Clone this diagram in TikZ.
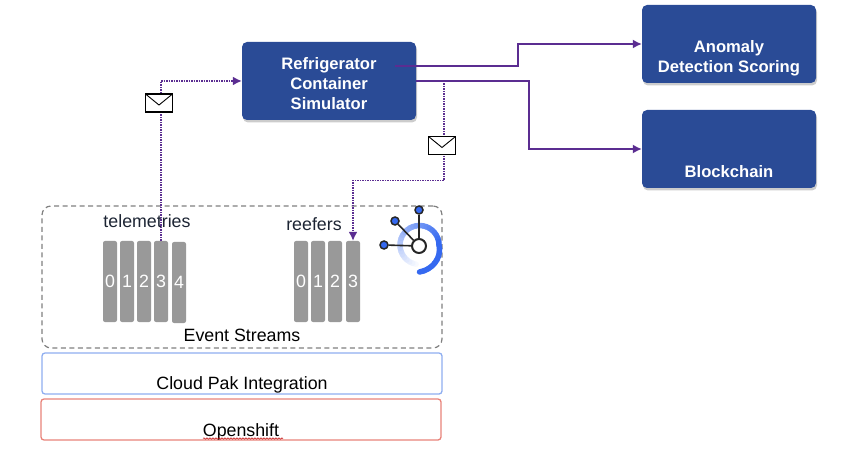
\documentclass[tikz,border=0pt]{standalone}
\usepackage{fontspec}
\setmainfont{Liberation Sans}
\usetikzlibrary{arrows.meta,shadows,decorations.pathmorphing}

\definecolor{boxblue}{HTML}{2A4B96}
\definecolor{linepurple}{HTML}{5B2D91}
\definecolor{iconblue}{HTML}{3569F0}
\definecolor{topicink}{HTML}{1C2433}
\definecolor{cloudblue}{HTML}{8FAEF0}
\definecolor{shiftred}{HTML}{E8837A}

\tikzset{
  service/.style={rectangle, rounded corners=5pt, fill=boxblue, text=white,
      minimum width=174pt, minimum height=78pt, inner sep=0pt, align=center,
      font=\fontsize{16.6}{20}\selectfont\bfseries,
      drop shadow={shadow xshift=1pt, shadow yshift=-2.5pt, opacity=0.4}},
  layer/.style={rectangle, rounded corners=3pt, line width=1.3pt,
      minimum width=400pt, minimum height=41pt, inner sep=0pt, align=center,
      font=\fontsize{17.8}{21}\selectfont},
  partbar/.style={rectangle, rounded corners=2pt, fill=black!40, text=white,
      minimum width=14pt, minimum height=81pt, inner sep=0pt,
      font=\fontsize{17.8}{20}\selectfont},
  topicname/.style={text=topicink, inner sep=0pt, font=\fontsize{17.8}{20}\selectfont},
  envelope/.style={rectangle, draw=black, line width=1.2pt, fill=white,
      minimum width=27pt, minimum height=18pt, inner sep=0pt,
      path picture={\draw[line width=0.9pt]
        (path picture bounding box.north west) -- ++(13.5pt,-11pt)
        -- (path picture bounding box.north east);}},
  flow/.style={-{Latex[length=9pt,width=9pt]}, linepurple, line width=1.5pt},
  msgflow/.style={flow, dash pattern=on 1.4pt off 1.1pt, line width=1.6pt},
  hubdot/.style={circle, draw=black!85, line width=1.5pt, fill=iconblue,
      minimum size=8pt, inner sep=0pt}
}

\begin{document}
\begin{tikzpicture}[x=1pt, y=-1pt]
\useasboundingbox (0,0) rectangle (848,454);

% services
\node[service] (simulator) at (329,81) {\rule{0pt}{18pt}Refrigerator\\Container\\Simulator};
\node[service] (anomaly) at (729,44) {\rule{0pt}{21pt}\\Anomaly\\Detection Scoring};
\node[service] (blockchain) at (729,149) {\rule{0pt}{17pt}\\\mbox{}\\Blockchain};

% platform layers
\node[layer, draw=black!50, dash pattern=on 5pt off 3.5pt, line width=1.2pt, rounded corners=9pt,
      minimum height=142pt] (events) at (242,277) {};
\node[layer, draw=cloudblue] (cloudpak) at (242,373.5) {\rule{0pt}{14pt}\\Cloud Pak Integration};
\node[layer, draw=shiftred] (openshift) at (241,419.5) {\rule{0pt}{16pt}\\Openshift};
\node[inner sep=0pt, font=\fontsize{17.8}{20}\selectfont] (eventsname) at (242,335) {Event Streams};
\draw[red!75!black, line width=0.5pt, decorate,
      decoration={snake, amplitude=0.7pt, segment length=3pt}] (203,438.5) -- (283,438.5);

% topics
\node[topicname] (telemetries) at (147,221) {telemetries};
\node[topicname] (reefers) at (314,224) {reefers};
\foreach \n/\x in {0/110, 1/127, 2/144, 3/161}
  \node[partbar] (tel\n) at (\x,281.5) {\n};
\node[partbar] (tel4) at (179,282.5) {4};
\foreach \n/\x in {0/301, 1/318, 2/335, 3/353}
  \node[partbar] (ref\n) at (\x,281.5) {\n};

% event streams icon
\foreach \a in {250,240,...,-90} {
  \pgfmathsetmacro{\mixval}{\a<0 ? 100 : max(0,100-\a/2.6)}
  \pgfmathsetmacro{\ra}{\a<0 ? 19.5-\a/90*7.5 : 19.5}
  \pgfmathsetmacro{\rb}{\a+10<0 ? 19.5-(\a+10)/90*7.5 : 19.5}
  \draw[iconblue!\mixval!white, line width=5.5pt, line cap=round]
    ({419.5+\ra*cos(\a)},{245-\ra*sin(\a)}) -- ({419.5+\rb*cos(\a+10)},{245-\rb*sin(\a+10)});
}
\node[circle, draw=black!85, line width=2pt, fill=white, minimum size=14pt, inner sep=0pt] (hub) at (419,246) {};
\node[hubdot] (hubleft) at (384,245) {};
\node[hubdot] (hubmid) at (395,221) {};
\node[hubdot] (hubtop) at (419,210) {};
\draw[black!85, line width=1.6pt] (hub) -- (hubleft);
\draw[black!85, line width=1.6pt] (hub) -- (hubmid);
\draw[black!85, line width=1.6pt] (hub) -- (hubtop);

% connectors
\coordinate (simout) at (395,66);
\coordinate (tap) at (444,81);
\draw[flow] (simout) -- (518,66) |- (anomaly.west);
\draw[flow] (simulator.east) -- (529,81) |- (blockchain.west);
\draw[msgflow] (tel3.north) |- (simulator.west);
\draw[msgflow] (tap) -- (444,180.5) -| (ref3.north);

\node[envelope] (msgleft) at (159,103) {};
\node[envelope] (msgright) at (442,145.5) {};

\end{tikzpicture}
\end{document}
